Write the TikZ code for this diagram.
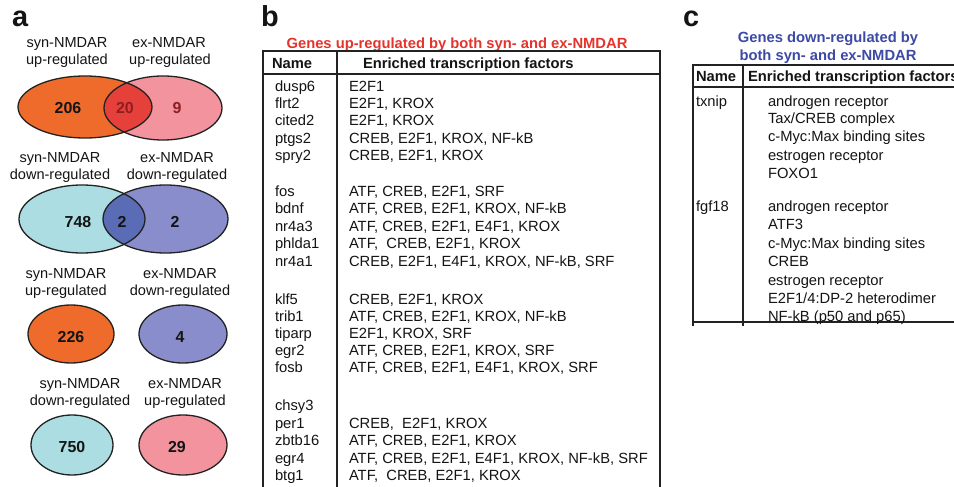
\documentclass[tikz,border=0pt]{standalone}
\usepackage{fontspec}
\setmainfont{Liberation Sans}
\definecolor{orgF}{HTML}{EF6B2B}
\definecolor{redOv}{HTML}{E5403A}
\definecolor{pinkF}{HTML}{F2939E}
\definecolor{cyanF}{HTML}{ABDDE3}
\definecolor{purpF}{HTML}{8A8DCB}
\definecolor{blueOv}{HTML}{5B6CB6}
\definecolor{numred}{HTML}{8E1E22}
\definecolor{titred}{HTML}{E4342C}
\definecolor{titblue}{HTML}{3C4AA6}
\definecolor{linec}{HTML}{222222}
\definecolor{txtc}{HTML}{141414}
\begin{document}
\begin{tikzpicture}[x=1bp,y=-1bp,
  every node/.style={inner sep=0pt, outer sep=0pt},
  txt/.style={font=\fontsize{14.8}{17}\selectfont, text=txtc},
  rowtxt/.style={txt, anchor=base west, yshift=-5.3bp},
  hdr/.style={font=\bfseries\fontsize{14.8}{17}\selectfont, text=txtc, anchor=base west, yshift=-5.3bp},
  ttl/.style={font=\bfseries\fontsize{14.8}{17}\selectfont, anchor=base, yshift=-5.3bp},
  vlab/.style={font=\fontsize{14.6}{17}\selectfont, text=txtc, anchor=base, yshift=-5.2bp},
  vnum/.style={font=\bfseries\fontsize{16}{18}\selectfont, text=txtc, anchor=base, yshift=-5.8bp},
  panel/.style={font=\bfseries\fontsize{29}{32}\selectfont, text=txtc, anchor=base west},
  tbl/.style={draw=linec, line width=1.5bp},
  vout/.style={draw=linec, line width=1.3bp}
]
\useasboundingbox[fill=white] (0,0) rectangle (954,487);

% ---------- panel letters ----------
\node[panel] (pa) at (12,27) {a};
\node[panel] (pb) at (261,27) {b};
\node[panel] (pc) at (683,27) {c};

% ---------- panel a : Venn 1 ----------
\node[vlab] (l1a) at (67,42) {syn-NMDAR};
\node[vlab] (l1b) at (67,59) {up-regulated};
\node[vlab] (l1c) at (169,42) {ex-NMDAR};
\node[vlab] (l1d) at (170,59) {up-regulated};
\fill[orgF] (85,107) ellipse [x radius=67bp, y radius=31bp];
\fill[pinkF] (163,108) ellipse [x radius=59bp, y radius=32bp];
\begin{scope}
  \clip (85,107) ellipse [x radius=67bp, y radius=31bp];
  \fill[redOv] (163,108) ellipse [x radius=59bp, y radius=32bp];
\end{scope}
\draw[vout] (85,107) ellipse [x radius=67bp, y radius=31bp];
\draw[vout] (163,108) ellipse [x radius=59bp, y radius=32bp];
\node[vnum] (n206) at (68,108) {206};
\node[vnum, text=numred] (n20) at (125,108) {20};
\node[vnum, text=numred] (n9) at (177,108) {9};

% ---------- panel a : Venn 2 ----------
\node[vlab] (l2a) at (60,157) {syn-NMDAR};
\node[vlab] (l2b) at (60,174) {down-regulated};
\node[vlab] (l2c) at (177,157) {ex-NMDAR};
\node[vlab] (l2d) at (177,174) {down-regulated};
\fill[cyanF] (82,219) ellipse [x radius=63bp, y radius=34bp];
\fill[purpF] (165.5,219) ellipse [x radius=62.5bp, y radius=34bp];
\begin{scope}
  \clip (82,219) ellipse [x radius=63bp, y radius=34bp];
  \fill[blueOv] (165.5,219) ellipse [x radius=62.5bp, y radius=34bp];
\end{scope}
\draw[vout] (82,219) ellipse [x radius=63bp, y radius=34bp];
\draw[vout] (165.5,219) ellipse [x radius=62.5bp, y radius=34bp];
\node[vnum] (n748) at (78,222) {748};
\node[vnum] (n2a) at (122,222) {2};
\node[vnum] (n2b) at (175,222) {2};

% ---------- panel a : row 3 ----------
\node[vlab] (l3a) at (66,273) {syn-NMDAR};
\node[vlab] (l3b) at (66,290) {up-regulated};
\node[vlab] (l3c) at (180,273) {ex-NMDAR};
\node[vlab] (l3d) at (180,290) {down-regulated};
\draw[vout, fill=orgF] (71,334) ellipse [x radius=43bp, y radius=29bp];
\draw[vout, fill=purpF] (183,334) ellipse [x radius=44bp, y radius=29bp];
\node[vnum] (n226) at (71,337) {226};
\node[vnum] (n4) at (180,337) {4};

% ---------- panel a : row 4 ----------
\node[vlab] (l4a) at (80,383) {syn-NMDAR};
\node[vlab] (l4b) at (80,400) {down-regulated};
\node[vlab] (l4c) at (185,383) {ex-NMDAR};
\node[vlab] (l4d) at (185,400) {up-regulated};
\draw[vout, fill=cyanF] (72,445) ellipse [x radius=41bp, y radius=30bp];
\draw[vout, fill=pinkF] (183,445) ellipse [x radius=44bp, y radius=30bp];
\node[vnum] (n750) at (72,447) {750};
\node[vnum] (n29) at (177,447) {29};

% ---------- panel b ----------
\node[ttl, text=titred] (tb) at (457,43) {Genes up-regulated by both syn- and ex-NMDAR};
\draw[tbl] (263,488) -- (263,51) -- (660,51) -- (660,488);
\draw[tbl] (263,74) -- (660,74);
\draw[tbl] (337,51) -- (337,488);
\node[hdr] (hbn) at (272,63) {Name};
\node[hdr] (hbf) at (363,63) {Enriched transcription factors};
\foreach \nm/\fa/\yy [count=\i] in {
  dusp6/{E2F1}/86, flrt2/{E2F1, KROX}/103, cited2/{E2F1, KROX}/120,
  ptgs2/{CREB, E2F1, KROX, NF-kB}/138, spry2/{CREB, E2F1, KROX}/155,
  fos/{ATF, CREB, E2F1, SRF}/191, bdnf/{ATF, CREB, E2F1, KROX, NF-kB}/208,
  nr4a3/{ATF, CREB, E2F1, E4F1, KROX}/226, phlda1/{ATF, \ CREB, E2F1, KROX}/243,
  nr4a1/{CREB, E2F1, E4F1, KROX, NF-kB, SRF}/261,
  klf5/{CREB, E2F1, KROX}/299, trib1/{ATF, CREB, E2F1, KROX, NF-kB}/316,
  tiparp/{E2F1, KROX, SRF}/333, egr2/{ATF, CREB, E2F1, KROX, SRF}/350,
  fosb/{ATF, CREB, E2F1, E4F1, KROX, SRF}/367,
  chsy3/{}/405, per1/{CREB, \ E2F1, KROX}/423, zbtb16/{ATF, CREB, E2F1, KROX}/440,
  egr4/{ATF, CREB, E2F1, E4F1, KROX, NF-kB, SRF}/458, btg1/{ATF, \ CREB, E2F1, KROX}/475}
{
  \node[rowtxt] (bn\i) at (275,\yy) {\nm};
  \node[rowtxt] (bf\i) at (349,\yy) {\fa};
}

% ---------- panel c ----------
\node[ttl, text=titblue] (tc1) at (828,37) {Genes down-regulated by};
\node[ttl, text=titblue] (tc2) at (828,55) {both syn- and ex-NMDAR};
\draw[tbl] (692,65) -- (956,65);
\draw[tbl] (692,87) -- (956,87);
\draw[tbl] (692,322) -- (956,322);
\draw[tbl] (693,64) -- (693,326);
\draw[tbl] (743,64) -- (743,326);
\node[hdr] (hcn) at (696,76) {Name};
\node[hdr] (hcf) at (748,76) {Enriched transcription factors};
\node[rowtxt] (cn1) at (696,101) {txnip};
\node[rowtxt] (cn2) at (696,206) {fgf18};
\foreach \fa/\yy [count=\i] in {
  {androgen receptor}/101, {Tax/CREB complex}/118, {c-Myc:Max binding sites}/136,
  {estrogen receptor}/155, {FOXO1}/173,
  {androgen receptor}/206, {ATF3}/224, {c-Myc:Max binding sites}/243, {CREB}/261,
  {estrogen receptor}/280, {E2F1/4:DP-2 heterodimer}/298, {NF-kB (p50 and p65)}/316}
{
  \node[rowtxt] (cf\i) at (768,\yy) {\fa};
}
\end{tikzpicture}
\end{document}
